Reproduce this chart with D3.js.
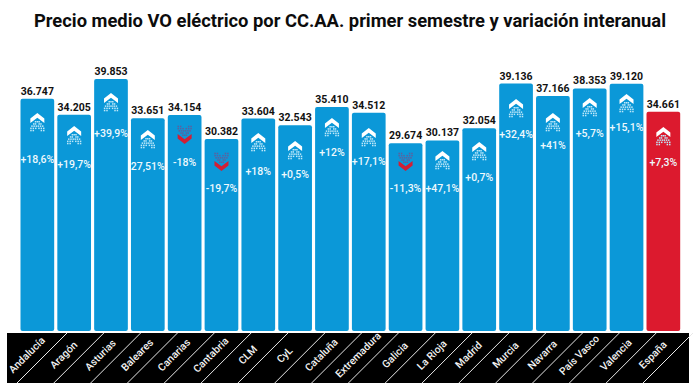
<!DOCTYPE html>
<html><head><meta charset="utf-8">
<script src="https://cdn.jsdelivr.net/npm/d3@7"></script>
<style>html,body{margin:0;padding:0;background:#fff}svg{display:block}</style>
</head><body><svg id="c" width="700" height="390"></svg>
<script>
const categories = ["Andalucía","Aragón","Asturias","Baleares","Canarias","Cantabria","CLM","CyL","Cataluña","Extremadura","Galicia","La Rioja","Madrid","Murcia","Navarra","País Vasco","Valencia","España"];
const prices = [36747,34205,39853,33651,34154,30382,33604,32543,35410,34512,29674,30137,32054,39136,37166,38353,39120,34661];
const changeLabels = ["+18,6%","+19,7%","+39,9%","27,51%","-18%","-19,7%","+18%","+0,5%","+12%","+17,1%","-11,3%","+47,1%","+0,7%","+32,4%","+41%","+5,7%","+15,1%","+7,3%"];
const directions = ["up","up","up","up","down","down","up","up","up","up","down","up","up","up","up","up","up","up"];
// placement of the annotation inside each bar, in px below the bar top (layout, hand-placed in the original)
const iconOffsets = [14,11,14,12,11,14,14,16,11,15,10,11,14,15,17,10,10,15];
const changeOffsets = [61,50,54,48,47,49,53,49,45,49,45,48,49,51,49,45,44,50];

const BLUE="#0b98d8", RED="#dc1a2e";
const svg=d3.select("#c");
const f="Roboto, sans-serif";
const x=d3.scaleBand().domain(categories).range([20.5,680.2]).paddingInner(0.085).paddingOuter(0);
const y=d3.scaleLinear().domain([0,39853]).range([331,79]);

svg.append("text").attr("x",350).attr("y",27).attr("text-anchor","middle")
  .attr("font-family",f).attr("font-weight",700).attr("font-size",18.35).attr("fill","#0c0c0c")
  .text("Precio medio VO eléctrico por CC.AA. primer semestre y variación interanual");

const rows=categories.map((c,i)=>({c,v:prices[i],t:changeLabels[i],d:directions[i],io:iconOffsets[i],co:changeOffsets[i],i}));

svg.append("g").selectAll("rect").data(rows).join("rect")
  .attr("x",d=>x(d.c)).attr("y",d=>y(d.v)).attr("width",x.bandwidth()).attr("height",d=>y(0)-y(d.v))
  .attr("rx",2).attr("fill",d=>d.c==="España"?RED:BLUE);

const fmt=v=>d3.format(",")(v).replace(",",".");
svg.append("g").selectAll("text").data(rows).join("text")
  .attr("x",d=>x(d.c)+x.bandwidth()/2).attr("y",d=>y(d.v)-4).attr("text-anchor","middle")
  .attr("font-family",f).attr("font-weight",700).attr("font-size",10.5).attr("fill","#111").text(d=>fmt(d.v));

svg.append("g").selectAll("text").data(rows).join("text")
  .attr("x",d=>x(d.c)+x.bandwidth()/2).attr("y",d=>y(d.v)+d.co+3.7).attr("text-anchor","middle")
  .attr("font-family",f).attr("font-weight",500).attr("font-size",10.5).attr("fill","#eef9fd").text(d=>d.t);

// icons: solid chevron with a dotted arrow body
const chevron=d3.line()([[0,0],[7,5.4],[7,10],[0,4.8],[-7,10],[-7,5.4]])+"Z";
const dotRows=[[-1.8,0,1.8],[-3.6,-1.8,1.8,3.6],[-5.4,-3.2,-1,1,3.2,5.4],[-6.4,-4,-1.6,1.6,4,6.4],[-6.4,-4,4,6.4]];
const icon=svg.append("g").selectAll("g").data(rows).join("g")
  .attr("transform",d=>{
    const cx=x(d.c)+x.bandwidth()/2, top=Math.round(y(d.v)+d.io);
    return d.d==="up"?`translate(${cx},${top})`:`translate(${cx},${top+18}) scale(1,-1)`;
  });
dotRows.forEach((r,ri)=>{
  r.forEach(dx=>{
    icon.append("rect").attr("x",dx-.75).attr("y",8+ri*2.2).attr("width",1.5).attr("height",1.5)
      .attr("fill",d=>d.d==="up"?"#bfe8f9":"#5f5f9c");
  });
});
icon.append("path").attr("d",chevron).attr("fill",d=>d.d==="up"?"#fff":"#d11f35");

// category band
const bandTop=333, bandBottom=383;
svg.append("rect").attr("x",7).attr("y",bandTop).attr("width",682).attr("height",bandBottom-bandTop).attr("fill","#000");
svg.append("g").selectAll("line").data(categories).join("line")
  .attr("x1",d=>x(d)-3.5).attr("y1",bandBottom).attr("x2",d=>x(d)+46.5).attr("y2",bandTop)
  .attr("stroke","#e8e8e8").attr("stroke-width",1);

const axis=svg.append("g").attr("transform",`translate(0,355.5)`)
  .call(d3.axisBottom(x).tickSize(0).tickPadding(0));
axis.select(".domain").remove();
axis.selectAll("text").attr("font-family",f).attr("font-weight",500).attr("font-size",10.4).attr("fill","#f2f2f2")
  .attr("text-anchor","middle").attr("dy",0).attr("y",0).attr("dominant-baseline","middle")
  .attr("transform","translate(-10,0) rotate(-45)");
</script></body></html>
